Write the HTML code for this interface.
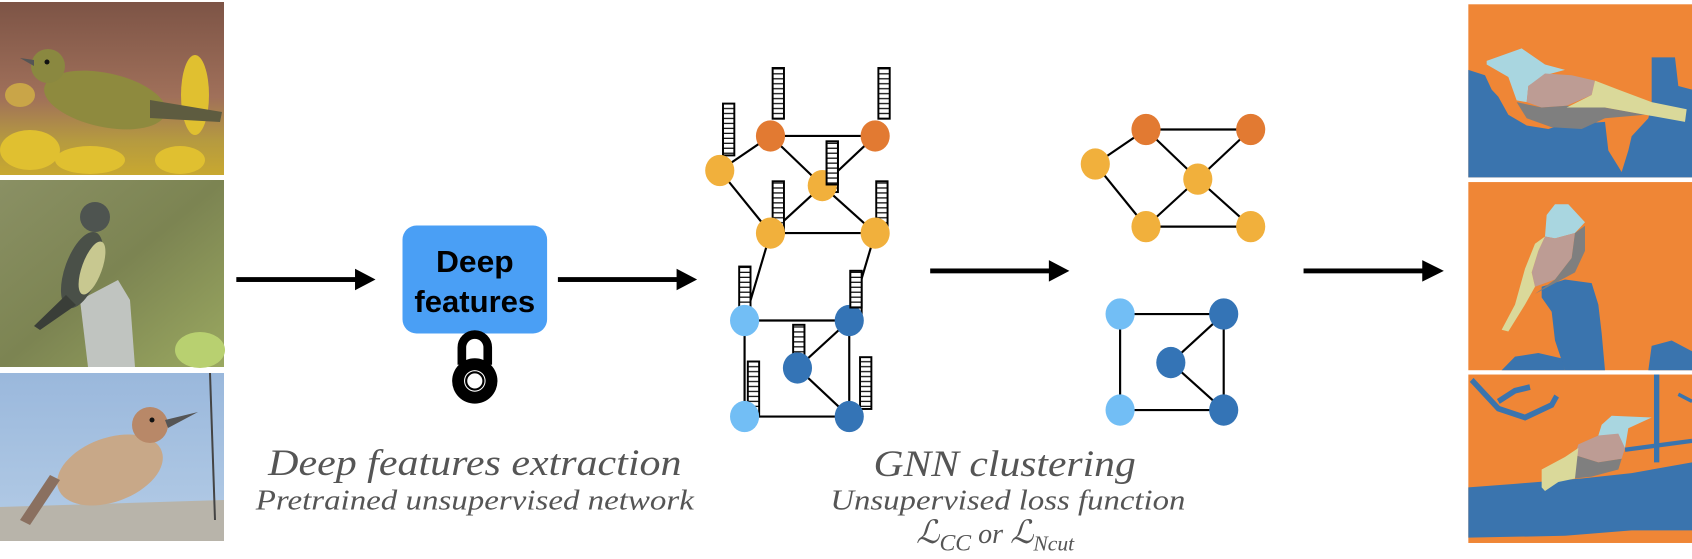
<!DOCTYPE html>
<html><head><meta charset="utf-8"><style>
html,body{margin:0;padding:0;background:#fff;}
svg{display:block;}
</style></head><body>
<svg width="1692" height="559" viewBox="0 0 1692 559" xmlns="http://www.w3.org/2000/svg">
<defs>
<pattern id="st" patternUnits="userSpaceOnUse" width="20" height="4.6"><rect width="20" height="4.6" fill="#fff"/><rect y="3.4" width="20" height="1.2" fill="#111"/></pattern>
<linearGradient id="g1" x1="0" y1="0" x2="0" y2="1"><stop offset="0" stop-color="#7d5446"/><stop offset="0.55" stop-color="#a0705a"/><stop offset="0.8" stop-color="#b59a40"/><stop offset="1" stop-color="#c8a830"/></linearGradient>
<linearGradient id="g2" x1="0" y1="0" x2="1" y2="1"><stop offset="0" stop-color="#8a9064"/><stop offset="0.5" stop-color="#7c8452"/><stop offset="1" stop-color="#9aa860"/></linearGradient>
<linearGradient id="g3" x1="0" y1="0" x2="0" y2="1"><stop offset="0" stop-color="#9ab8dc"/><stop offset="1" stop-color="#b4cce6"/></linearGradient>
</defs>

<!-- Photos -->
<rect x="0" y="2" width="224" height="173" fill="url(#g1)"/>
<g fill="#e0c030"><ellipse cx="30" cy="150" rx="30" ry="20"/><ellipse cx="195" cy="95" rx="14" ry="40"/><ellipse cx="90" cy="160" rx="35" ry="14"/><ellipse cx="180" cy="160" rx="25" ry="14"/><ellipse cx="20" cy="95" rx="15" ry="12" fill="#c9a548"/></g>
<ellipse cx="105" cy="100" rx="62" ry="27" fill="#8e8a3e" transform="rotate(12 105 100)"/>
<polygon points="150,100 222,112 220,122 150,118" fill="#5e5c40"/>
<circle cx="48" cy="66" r="17" fill="#8a8840"/>
<polygon points="20,58 34,60 34,66" fill="#555"/>
<circle cx="47" cy="62" r="2.5" fill="#111"/>

<rect x="0" y="180" width="224" height="187" fill="url(#g2)"/>
<polygon points="80,300 118,280 130,300 135,367 88,367" fill="#c0c4c0"/>
<ellipse cx="82" cy="270" rx="17" ry="40" fill="#4a5048" transform="rotate(20 82 270)"/>
<polygon points="66,295 76,305 40,330 34,326" fill="#3a3e38"/>
<ellipse cx="92" cy="268" rx="10" ry="28" fill="#c8c890" transform="rotate(20 92 268)"/>
<circle cx="95" cy="217" r="15" fill="#4e5450"/>
<ellipse cx="200" cy="350" rx="25" ry="18" fill="#b8d070"/>

<rect x="0" y="373" width="224" height="168" fill="url(#g3)"/>
<polygon points="0,507 224,500 224,541 0,541" fill="#b8b4aa"/>
<line x1="210" y1="373" x2="215" y2="520" stroke="#444" stroke-width="2"/>
<ellipse cx="110" cy="470" rx="55" ry="32" fill="#c8a888" transform="rotate(-20 110 470)"/>
<polygon points="60,480 30,525 20,520 50,475" fill="#8a7060"/>
<circle cx="150" cy="425" r="18" fill="#b88868"/>
<polygon points="165,420 198,412 168,428" fill="#555"/>
<circle cx="152" cy="420" r="2.5" fill="#111"/>

<!-- Segmentation panels (zoom coords) -->
<g transform="translate(1465,0) scale(0.33333,0.3584)">
<rect x="10" y="12" width="671" height="483" fill="#ef8636"/>
<polygon fill="#3a74ae" points="10,195 60,210 80,250 100,270 130,320 185,350 250,360 300,345 350,345 420,340 430,420 470,480 490,420 500,380 550,330 560,290 560,160 630,160 640,240 681,250 681,495 10,495"/>
<polygon fill="#a9d6e0" points="65,170 170,135 240,180 300,195 240,210 190,240 185,285 155,280 130,215 65,180"/>
<polygon fill="#bd9c94" points="190,240 240,205 320,210 390,225 380,265 305,295 230,300 185,285"/>
<polygon fill="#7f7f7f" points="155,285 230,300 305,295 420,300 540,320 420,330 350,360 260,355 185,330"/>
<polygon fill="#dad99a" points="390,225 460,250 560,285 665,305 660,340 540,320 420,300 305,300 380,265"/>

<rect x="10" y="508" width="671" height="525" fill="#ef8636"/>
<polygon fill="#3a74ae" points="230,800 300,780 380,790 400,850 410,930 420,1033 300,1033 270,950 260,870 230,830"/>
<polygon fill="#3a74ae" points="110,1033 150,995 220,985 290,1000 300,1033"/>
<polygon fill="#3a74ae" points="550,1033 560,965 620,950 681,980 681,1033"/>
<polygon fill="#a9d6e0" points="245,600 270,570 310,570 360,620 330,650 270,665 240,660"/>
<polygon fill="#bd9c94" points="240,660 270,665 330,650 320,720 270,780 210,800 200,760 220,700"/>
<polygon fill="#7f7f7f" points="330,650 360,630 360,700 330,760 270,790 210,820 270,780 320,720"/>
<polygon fill="#dad99a" points="240,660 220,700 200,760 210,800 180,850 130,925 110,920 150,850 180,750 210,680"/>

<rect x="10" y="1045" width="671" height="470" fill="#ef8636"/>
<polygon fill="#3a74ae" points="10,1360 150,1350 350,1335 500,1320 681,1290 681,1480 500,1480 300,1495 10,1500"/>
<g fill="none" stroke="#3a74ae" stroke-width="16">
<polyline points="20,1060 100,1140 180,1165 260,1130 275,1105"/>
<polyline points="100,1120 150,1090 195,1080"/>
<line x1="575" y1="1045" x2="575" y2="1290"/>
<line x1="480" y1="1255" x2="681" y2="1230" stroke-width="12"/>
<line x1="640" y1="1100" x2="681" y2="1120" stroke-width="10"/>
</g>
<polygon fill="#a9d6e0" points="410,1185 440,1160 560,1165 490,1195 480,1250 400,1215"/>
<polygon fill="#bd9c94" points="340,1240 400,1215 460,1210 480,1250 470,1280 400,1290 330,1270"/>
<polygon fill="#7f7f7f" points="330,1270 400,1290 470,1280 460,1310 380,1330 330,1335"/>
<polygon fill="#dad99a" points="230,1310 300,1275 340,1250 330,1335 280,1345 240,1370 230,1360"/>
</g>

<!-- Main diagram in display coordinates -->
<g transform="scale(1.0791)">
<g fill="#000">
<rect x="219" y="256.8" width="112" height="4.5"/><polygon points="329,249 348,259 329,269"/>
<rect x="517" y="256.8" width="112" height="4.5"/><polygon points="627,249 646,259 627,269"/>
<rect x="862" y="248.8" width="112" height="4.5"/><polygon points="972,241 991,251 972,261"/>
<rect x="1208" y="248.8" width="112" height="4.5"/><polygon points="1318,241 1338,251 1318,261"/>
</g>
<rect x="373" y="209" width="134" height="100" rx="13" fill="#4a9ff5"/>
<text x="440" y="252" font-family="Liberation Sans, sans-serif" font-weight="bold" font-size="28" text-anchor="middle" fill="#000" textLength="72" lengthAdjust="spacingAndGlyphs">Deep</text>
<text x="440" y="289" font-family="Liberation Sans, sans-serif" font-weight="bold" font-size="28" text-anchor="middle" fill="#000" textLength="112" lengthAdjust="spacingAndGlyphs">features</text>
<path d="M428,338 V322 A12,12 0 0 1 452,322 V338" fill="none" stroke="#000" stroke-width="8"/>
<circle cx="440" cy="353" r="21" fill="#000"/>
<circle cx="440" cy="353" r="10" fill="#fff"/>
<circle cx="440" cy="353" r="8" fill="none" stroke="#000" stroke-width="2"/>

<g font-family="Liberation Serif, serif" font-style="italic" fill="#555" text-anchor="middle">
<text x="440" y="440" font-size="34" textLength="383" lengthAdjust="spacingAndGlyphs">Deep features extraction</text>
<text x="440" y="472" font-size="26" textLength="406" lengthAdjust="spacingAndGlyphs">Pretrained unsupervised network</text>
<text x="931" y="441" font-size="34" textLength="243" lengthAdjust="spacingAndGlyphs">GNN clustering</text>
<text x="934" y="472" font-size="26" textLength="329" lengthAdjust="spacingAndGlyphs">Unsupervised loss function</text>
<text x="849" y="503" font-size="30" text-anchor="start">ℒ<tspan font-size="22" dy="7">CC</tspan><tspan dy="-7" font-size="26"> or </tspan>ℒ<tspan font-size="20" dy="7">Ncut</tspan></text>
</g>

<!-- Graph 1 edges -->
<g stroke="#000" stroke-width="2">
<line x1="714" y1="126" x2="811" y2="126"/><line x1="714" y1="126" x2="667" y2="158"/><line x1="714" y1="126" x2="762" y2="172"/>
<line x1="667" y1="158" x2="714" y2="216"/><line x1="762" y1="172" x2="714" y2="216"/><line x1="762" y1="172" x2="811" y2="126"/>
<line x1="762" y1="172" x2="811" y2="216"/><line x1="714" y1="216" x2="811" y2="216"/>
<line x1="714" y1="216" x2="690" y2="297"/><line x1="811" y1="216" x2="787" y2="297"/>
<line x1="690" y1="297" x2="787" y2="297"/><line x1="690" y1="297" x2="690" y2="386"/><line x1="690" y1="386" x2="787" y2="386"/>
<line x1="787" y1="297" x2="787" y2="386"/><line x1="787" y1="297" x2="739" y2="341"/><line x1="739" y1="341" x2="787" y2="386"/>
</g>
<g fill="url(#st)" stroke="#000" stroke-width="1.8">
<rect x="670" y="96" width="10.5" height="48"/>
<rect x="716" y="63" width="10.5" height="47"/>
<rect x="814" y="63" width="10.5" height="47"/>
<rect x="766" y="131" width="10.5" height="47"/>
<rect x="716" y="168" width="10.5" height="48"/>
<rect x="812" y="168" width="10.5" height="48"/>
<rect x="685" y="247" width="10.5" height="50"/>
<rect x="788" y="251" width="10.5" height="46"/>
<rect x="735" y="301" width="10.5" height="40"/>
<rect x="693" y="335" width="10.5" height="51"/>
<rect x="797" y="331" width="10.5" height="48"/>
</g>
<g>
<ellipse cx="714" cy="126" rx="13.5" ry="14.5" fill="#e27a32"/><ellipse cx="811" cy="126" rx="13.5" ry="14.5" fill="#e27a32"/>
<ellipse cx="667" cy="158" rx="13.5" ry="14.5" fill="#f1b03c"/><ellipse cx="762" cy="172" rx="13.5" ry="14.5" fill="#f1b03c"/>
<ellipse cx="714" cy="216" rx="13.5" ry="14.5" fill="#f1b03c"/><ellipse cx="811" cy="216" rx="13.5" ry="14.5" fill="#f1b03c"/>
<ellipse cx="690" cy="297" rx="13.5" ry="14.5" fill="#72bef5"/><ellipse cx="690" cy="386" rx="13.5" ry="14.5" fill="#72bef5"/>
<ellipse cx="787" cy="297" rx="13.5" ry="14.5" fill="#3474b6"/><ellipse cx="739" cy="341" rx="13.5" ry="14.5" fill="#3474b6"/><ellipse cx="787" cy="386" rx="13.5" ry="14.5" fill="#3474b6"/>
</g>
<g fill="url(#st)" stroke="#000" stroke-width="1.8">
<rect x="766" y="131" width="10.5" height="40"/>
<rect x="788" y="251" width="10.5" height="34"/>
</g>

<!-- Graph 2 -->
<g stroke="#000" stroke-width="2">
<line x1="1062" y1="120" x2="1159" y2="120"/><line x1="1062" y1="120" x2="1015" y2="152"/><line x1="1062" y1="120" x2="1110" y2="166"/>
<line x1="1159" y1="120" x2="1110" y2="166"/><line x1="1015" y1="152" x2="1062" y2="210"/><line x1="1110" y1="166" x2="1062" y2="210"/>
<line x1="1110" y1="166" x2="1159" y2="210"/><line x1="1062" y1="210" x2="1159" y2="210"/>
<line x1="1038" y1="291" x2="1134" y2="291"/><line x1="1038" y1="291" x2="1038" y2="380"/><line x1="1038" y1="380" x2="1134" y2="380"/>
<line x1="1134" y1="291" x2="1134" y2="380"/><line x1="1134" y1="291" x2="1085" y2="336"/><line x1="1085" y1="336" x2="1134" y2="380"/>
</g>
<ellipse cx="1062" cy="120" rx="13.5" ry="14.5" fill="#e27a32"/><ellipse cx="1159" cy="120" rx="13.5" ry="14.5" fill="#e27a32"/>
<ellipse cx="1015" cy="152" rx="13.5" ry="14.5" fill="#f1b03c"/><ellipse cx="1110" cy="166" rx="13.5" ry="14.5" fill="#f1b03c"/>
<ellipse cx="1062" cy="210" rx="13.5" ry="14.5" fill="#f1b03c"/><ellipse cx="1159" cy="210" rx="13.5" ry="14.5" fill="#f1b03c"/>
<ellipse cx="1038" cy="291" rx="13.5" ry="14.5" fill="#72bef5"/><ellipse cx="1038" cy="380" rx="13.5" ry="14.5" fill="#72bef5"/>
<ellipse cx="1134" cy="291" rx="13.5" ry="14.5" fill="#3474b6"/><ellipse cx="1085" cy="336" rx="13.5" ry="14.5" fill="#3474b6"/><ellipse cx="1134" cy="380" rx="13.5" ry="14.5" fill="#3474b6"/>
</g>
</svg>
</body></html>
